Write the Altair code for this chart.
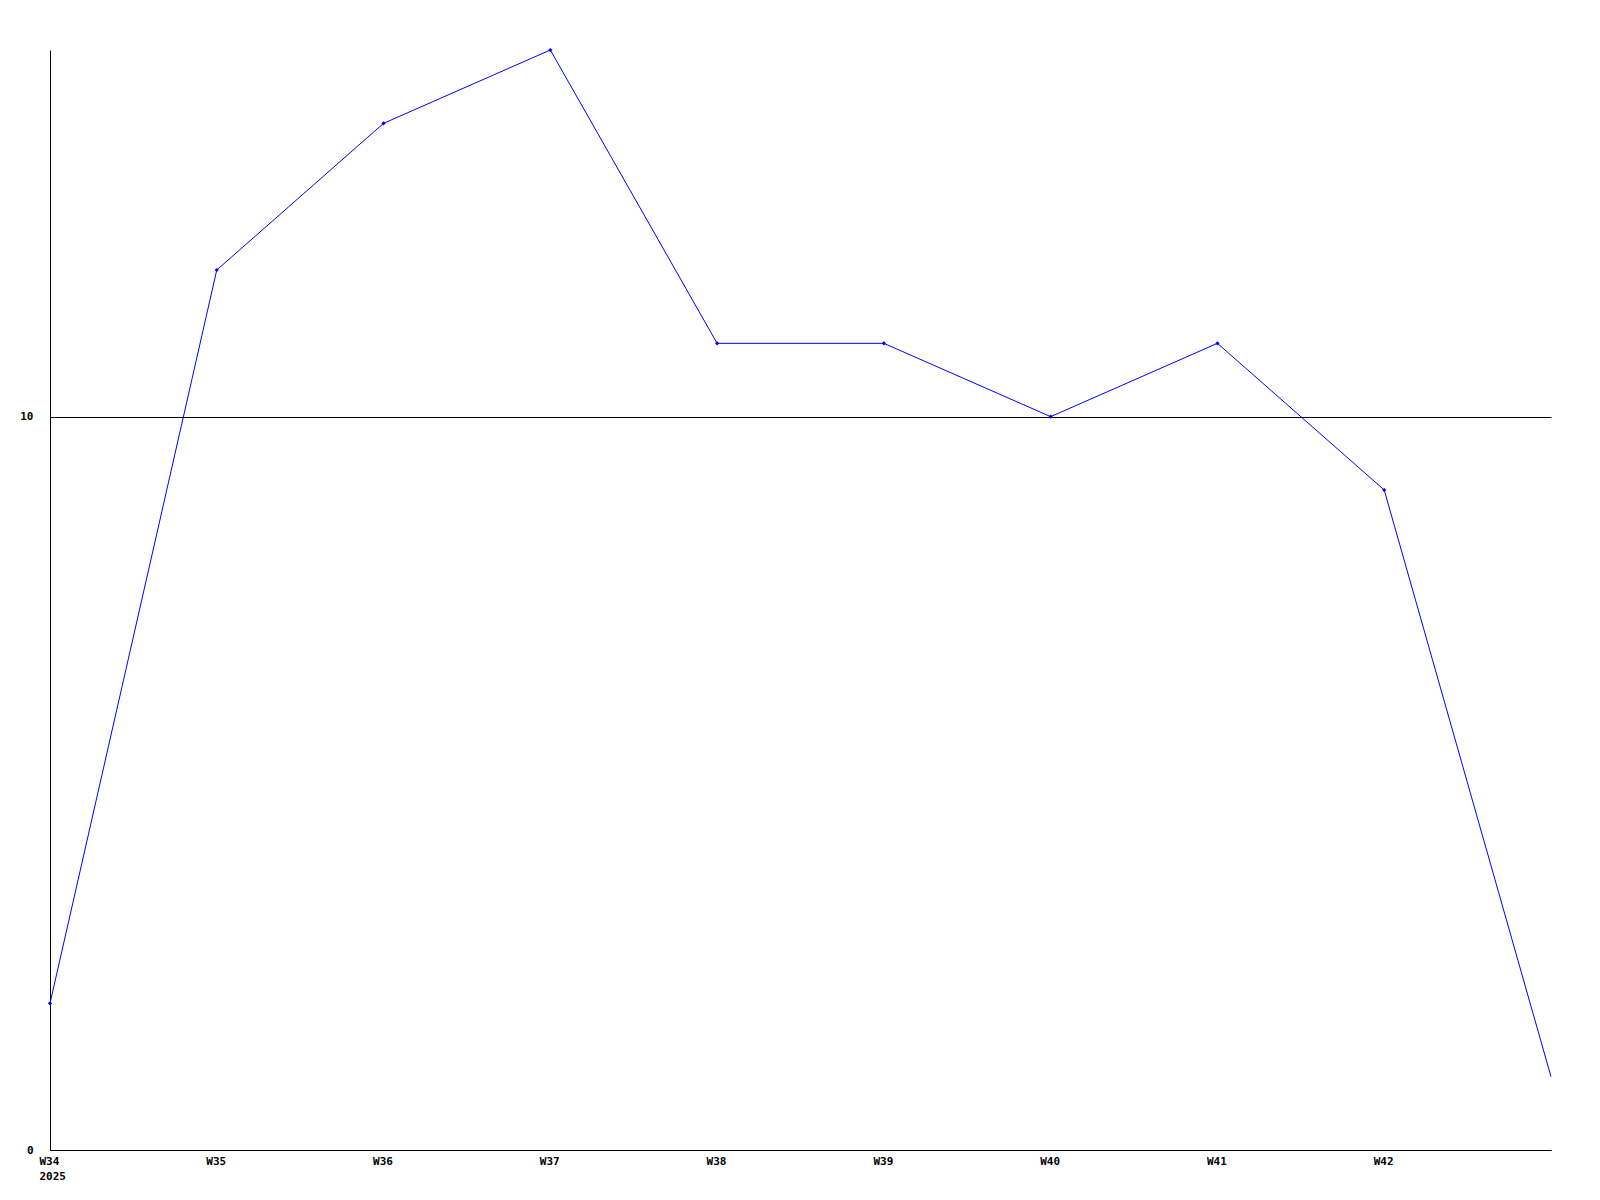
import altair as alt
import pandas as pd

weeks = [34, 35, 36, 37, 38, 39, 40, 41, 42, 43]
values = [2, 12, 14, 15, 11, 11, 10, 11, 9, 1]
marked = [True, True, True, True, True, True, True, True, True, False]
x_ticks = [34, 35, 36, 37, 38, 39, 40, 41, 42]
y_ticks = [0, 10]

df = pd.DataFrame({"week": weeks, "value": values, "marked": marked})

FONT = "DejaVu Sans Mono"

x_enc = alt.X(
    "week:Q",
    scale=alt.Scale(domain=[34, 43], nice=False, zero=False),
    axis=alt.Axis(
        values=x_ticks,
        title=None,
        grid=False,
        ticks=False,
        domainColor="black",
        domainWidth=1,
        labelFont=FONT,
        labelFontWeight="bold",
        labelFontSize=11,
        labelColor="black",
        labelPadding=5,
        labelLineHeight=15,
        labelBaseline="top",
        labelAlign="left",
        labelOffset=-11,
        labelFlush=False,
        labelExpr="datum.value == 34 ? ['W34', '2025'] : 'W' + datum.value",
    ),
)
y_enc = alt.Y(
    "value:Q",
    scale=alt.Scale(domain=[0, 15], nice=False),
    axis=alt.Axis(
        values=y_ticks,
        title=None,
        grid=True,
        gridColor="black",
        gridOpacity=1,
        gridWidth=1,
        ticks=False,
        domainColor="black",
        domainWidth=1,
        labelFont=FONT,
        labelFontWeight="bold",
        labelFontSize=11,
        labelColor="black",
        labelPadding=17,
    ),
)

line = alt.Chart(df).mark_line(color="#0000ff", strokeWidth=1, clip=False).encode(x=x_enc, y=y_enc)
points = (
    alt.Chart(df)
    .transform_filter("datum.marked")
    .mark_point(shape="diamond", filled=True, color="#0000ff", size=18, opacity=1)
    .encode(x=x_enc, y=y_enc)
)

chart = (
    alt.layer(line, points)
    .properties(
        width=1501,
        height=1100,
        background="white",
        autosize=alt.AutoSizeParams(type="none"),
        padding={"left": 42, "top": 42, "right": 40, "bottom": 40},
    )
    .configure_view(stroke=None, strokeWidth=0)
)

chart.save("out.html", embed_options={"renderer": "svg", "actions": False})
